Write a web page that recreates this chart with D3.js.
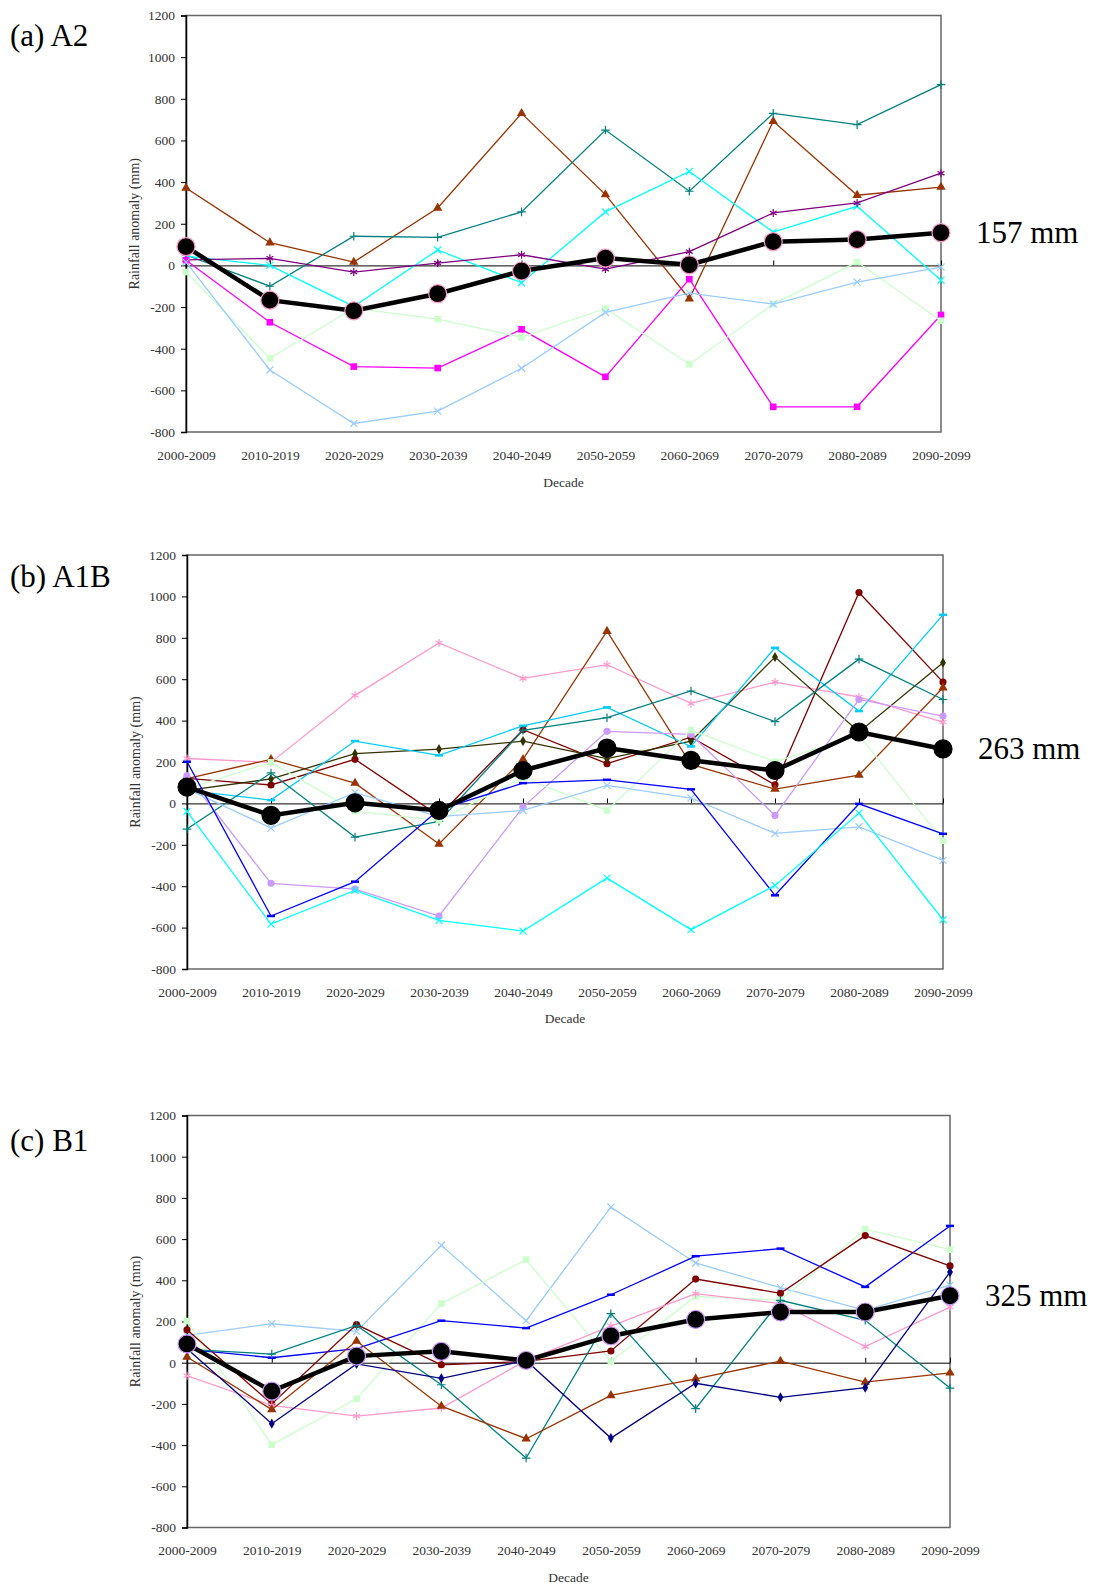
<!DOCTYPE html>
<html>
<head>
<meta charset="utf-8">
<script src="https://cdn.jsdelivr.net/npm/d3@7"></script>
<style>
  body { margin: 0; background: #fff; }
  svg { display: block; font-family: "Liberation Serif", "DejaVu Serif", serif; }
</style>
</head>
<body>
<svg id="chart" width="1093" height="1585"></svg>
<script>
const decades = ["2000-2009", "2010-2019", "2020-2029", "2030-2039", "2040-2049",
  "2050-2059", "2060-2069", "2070-2079", "2080-2089", "2090-2099"];
const yTicks = [-800, -600, -400, -200, 0, 200, 400, 600, 800, 1000, 1200];

// (a) A2 scenario, 7 models + ensemble mean
const a2Models = [
  [372, 109, 16, 276, 730, 340, -160, 692, 337, 376],
  [50, -100, 140, 135, 257, 650, 356, 730, 676, 868],
  [45, 0, -197, 74, -83, 257, 451, 160, 284, -71],
  [27, 34, -32, 11, 51, -18, 66, 252, 300, 443],
  [25, -273, -486, -493, -307, -535, -66, -679, -679, -238],
  [-32, -446, -205, -258, -345, -207, -475, -186, 16, -266],
  [16, -502, -759, -700, -494, -226, -133, -186, -80, -8]
];
const a2Mean = [90, -167, -218, -136, -27, 35, 3, 114, 124, 157];

// (b) A1B scenario, 11 models + ensemble mean
const a1bModels = [
  [217, 198, 522, 775, 604, 670, 483, 586, 514, 393],
  [121, 89, 213, -60, 356, 192, 320, 90, 1019, 586],
  [120, 213, 98, -196, 213, 832, 188, 69, 137, 559],
  [63, 118, 240, 262, 301, 216, 301, 707, 345, 680],
  [63, 16, 301, 232, 375, 464, 275, 752, 446, 911],
  [-124, 147, -163, -87, 353, 414, 543, 395, 697, 502],
  [134, -386, -414, -544, -18, 348, 333, -58, 502, 422],
  [71, 198, -37, -82, 124, -34, 354, 201, 330, -180],
  [70, -119, 52, -64, -34, 87, 26, -145, -113, -275],
  [201, -544, -378, -30, 98, 114, 68, -444, -2, -147],
  [-39, -583, -420, -565, -617, -361, -610, -396, -47, -562]
];
const a1bMean = [79, -58, 3, -34, 159, 267, 208, 159, 345, 263];

// (c) B1 scenario, 8 models + ensemble mean
const b1Models = [
  [133, 189, 152, 570, 204, 755, 484, 364, 254, 376],
  [202, -398, -175, 287, 500, 6, 322, 303, 648, 549],
  [65, 24, 68, 204, 168, 330, 517, 554, 368, 664],
  [160, -200, 185, -10, 6, 57, 406, 337, 617, 470],
  [-63, -207, -259, -220, 11, 178, 335, 287, 78, 270],
  [65, 42, 181, -107, -463, 238, -223, 303, 206, -123],
  [28, -228, 105, -211, -369, -159, -78, 8, -94, -49],
  [68, -296, -6, -76, 11, -366, -100, -168, -121, 440]
];
const b1Mean = [91, -138, 32, 55, 11, 130, 210, 246, 246, 325];

// line colours and marker kinds, same order as the model arrays
const a2Styles = [
  ["#993300", "triangle"], ["#008080", "plus"], ["#00FFFF", "times"], ["#800080", "asterisk"],
  ["#FF00FF", "square"], ["#CCFFCC", "square"], ["#99CCFF", "times"]
];
const a1bStyles = [
  ["#FF99CC", "asterisk"], ["#800000", "circle"], ["#993300", "triangle"], ["#333300", "diamond"],
  ["#00CCFF", "dash"], ["#008080", "plus"], ["#CC99FF", "circle"], ["#CCFFCC", "square"],
  ["#99CCFF", "times"], ["#0000FF", "dash"], ["#00FFFF", "times"]
];
const b1Styles = [
  ["#99CCFF", "times"], ["#CCFFCC", "square"], ["#0000FF", "dash"], ["#800000", "circle"],
  ["#FF99CC", "asterisk"], ["#008080", "plus"], ["#993300", "triangle"], ["#000080", "diamond"]
];

const svg = d3.select("#chart");

function markerPath(kind) {
  if (kind == "dash") return "M-4,0H4";
  let sym = d3.symbol();
  if (kind == "triangle") sym.type(d3.symbolTriangle).size(38);
  if (kind == "square") sym.type(d3.symbolSquare).size(44);
  if (kind == "circle") sym.type(d3.symbolCircle).size(40);
  if (kind == "diamond") sym.type(d3.symbolDiamond).size(30);
  if (kind == "plus") sym.type(d3.symbolPlus).size(26);
  if (kind == "times") sym.type(d3.symbolTimes).size(34);
  if (kind == "asterisk") sym.type(d3.symbolAsterisk).size(44);
  return sym();
}

function drawPanel(p) {
  let x = d3.scalePoint().domain(decades).range([p.left, p.right]);
  let y = d3.scaleLinear().domain([-800, 1200]).range([p.bottom, p.top]);
  let g = svg.append("g");

  // plot area border
  g.append("rect")
    .attr("x", p.left).attr("y", p.top)
    .attr("width", p.right - p.left).attr("height", p.bottom - p.top)
    .attr("fill", "none").attr("stroke", "#666").attr("stroke-width", 1.5);

  // value axis, plain hyphen minus and no thousands comma
  let ya = g.append("g").attr("transform", `translate(${p.left},0)`)
    .call(d3.axisLeft(y).tickValues(yTicks).tickSize(5).tickPadding(6).tickFormat(d => String(d)));
  ya.select(".domain").attr("stroke", "#000").attr("stroke-width", 1.5);
  ya.selectAll("text").attr("font-family", "Liberation Serif").attr("font-size", 13.5).attr("fill", "#333");

  // category axis crossing at zero, labels sit at the bottom
  let za = g.append("g").attr("transform", `translate(0,${y(0)})`)
    .call(d3.axisBottom(x).tickSize(-5).tickSizeOuter(0).tickFormat(""));
  za.select(".domain").attr("stroke", "#000");
  za.selectAll("line").attr("stroke", "#000");

  let xa = g.append("g").attr("transform", `translate(0,${p.bottom})`)
    .call(d3.axisBottom(x).tickSize(0).tickPadding(18));
  xa.select(".domain").remove();
  xa.selectAll("text").attr("font-family", "Liberation Serif").attr("font-size", 13.5).attr("fill", "#333");

  g.append("text")
    .attr("x", (p.left + p.right) / 2).attr("y", p.bottom + p.decadeGap)
    .attr("text-anchor", "middle").attr("font-size", 13.5).attr("fill", "#333")
    .text("Decade");

  g.append("text")
    .attr("transform", `translate(${p.left - 52},${(p.top + p.bottom) / 2}) rotate(-90)`)
    .attr("text-anchor", "middle").attr("dy", "0.35em").attr("font-size", 14).attr("fill", "#333")
    .text("Rainfall anomaly (mm)");

  g.append("text")
    .attr("x", 10).attr("y", p.labelY)
    .attr("font-size", 31).attr("fill", "#000")
    .text(p.name);

  let line = d3.line().x((d, i) => x(decades[i])).y(d => y(d));

  p.models.forEach((values, k) => {
    let color = p.styles[k][0];
    let kind = p.styles[k][1];
    g.append("path").datum(values)
      .attr("d", line).attr("fill", "none")
      .attr("stroke", color).attr("stroke-width", 1.3);
    let stroked = ["plus", "times", "asterisk", "dash"].includes(kind);
    g.selectAll(null).data(values).enter().append("path")
      .attr("transform", (d, i) => `translate(${x(decades[i])},${y(d)})`)
      .attr("d", markerPath(kind))
      .attr("fill", stroked ? "none" : color)
      .attr("stroke", stroked ? color : "none")
      .attr("stroke-width", kind == "dash" ? 2.5 : 1.2);
  });

  // ensemble mean
  g.append("path").datum(p.mean)
    .attr("d", line).attr("fill", "none")
    .attr("stroke", "#000").attr("stroke-width", 4.5);
  g.selectAll(null).data(p.mean).enter().append("circle")
    .attr("cx", (d, i) => x(decades[i])).attr("cy", d => y(d))
    .attr("r", 9).attr("fill", "#000")
    .attr("stroke", p.ring).attr("stroke-width", 1.2);

  let last = p.mean[p.mean.length - 1];
  g.append("text")
    .attr("x", p.right + 35).attr("y", y(last))
    .attr("dy", "0.33em").attr("font-size", 31).attr("fill", "#000")
    .text(last + " mm");
}

drawPanel({ name: "(a) A2", models: a2Models, styles: a2Styles, mean: a2Mean, ring: "#FF99CC",
  left: 186, right: 941, top: 15.5, bottom: 432, labelY: 46, decadeGap: 55 });
drawPanel({ name: "(b) A1B", models: a1bModels, styles: a1bStyles, mean: a1bMean, ring: "#000",
  left: 187, right: 943, top: 555, bottom: 969, labelY: 587, decadeGap: 54 });
drawPanel({ name: "(c) B1", models: b1Models, styles: b1Styles, mean: b1Mean, ring: "#CC99FF",
  left: 187, right: 950, top: 1115.5, bottom: 1527.5, labelY: 1151, decadeGap: 54 });
</script>
</body>
</html>
